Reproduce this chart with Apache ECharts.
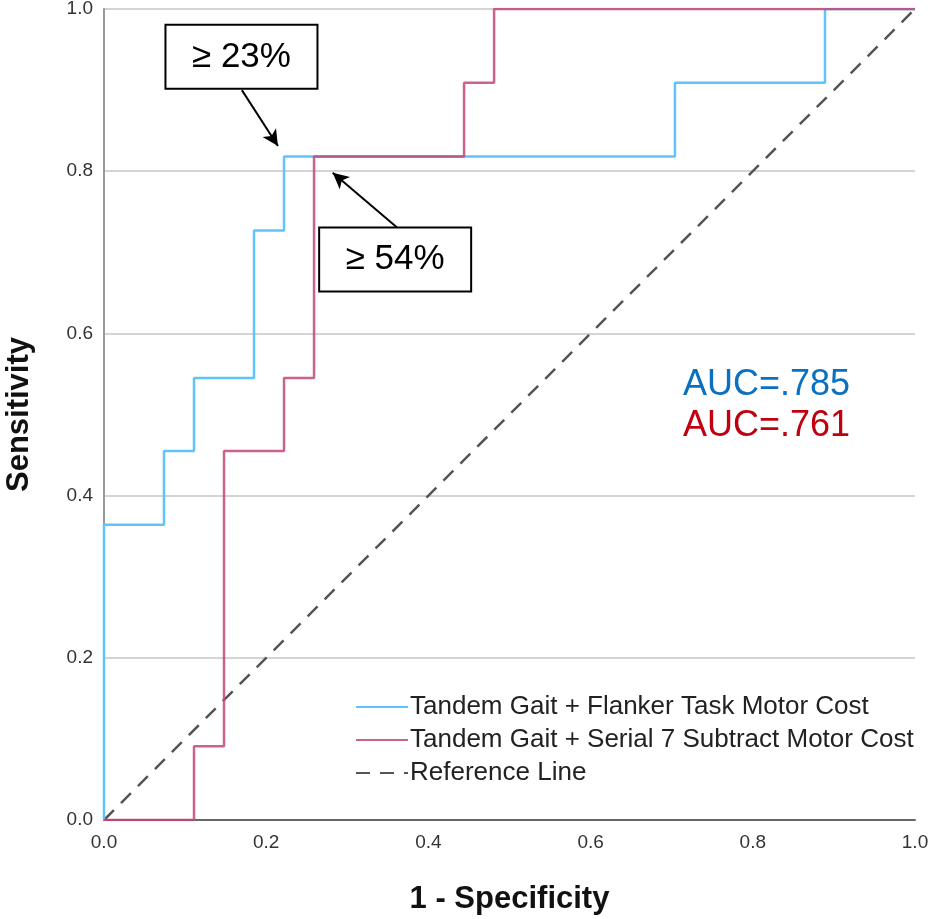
<!DOCTYPE html>
<html><head><meta charset="utf-8">
<script src="https://cdn.jsdelivr.net/npm/echarts@6/dist/echarts.min.js"></script>
<style>html,body{margin:0;padding:0;background:#fff}#c{width:933px;height:919px}</style>
</head><body><div id="c"></div>
<script>
const flankerFPR = [0, 0, 0.074, 0.074, 0.111, 0.111, 0.185, 0.185, 0.222, 0.222, 0.704, 0.704, 0.889, 0.889, 1];
const flankerTPR = [0, 0.364, 0.364, 0.455, 0.455, 0.545, 0.545, 0.727, 0.727, 0.818, 0.818, 0.909, 0.909, 1, 1];
const serialFPR = [0, 0.111, 0.111, 0.148, 0.148, 0.222, 0.222, 0.259, 0.259, 0.444, 0.444, 0.481, 0.481, 1];
const serialTPR = [0, 0, 0.091, 0.091, 0.455, 0.455, 0.545, 0.545, 0.818, 0.818, 0.909, 0.909, 1, 1];
const refX = [0, 1];
const refY = [0, 1];
const seriesNames = ['Tandem Gait + Flanker Task Motor Cost', 'Tandem Gait + Serial 7 Subtract Motor Cost', 'Reference Line'];
const aucTexts = ['AUC=.785', 'AUC=.761'];
const cutoffLabels = ['≥ 23%', '≥ 54%'];
const cutoffBoxPos = [[0.1695, 0.941], [0.359, 0.691]];
const cutoffArrows = [[[0.170, 0.900], [0.2145, 0.831]], [[0.361, 0.731], [0.282, 0.798]]];

const zip = (xs, ys) => xs.map((x, i) => [x, ys[i]]);
const font = 'Arial, "Liberation Sans", sans-serif';

const chart = echarts.init(document.getElementById('c'), null, {renderer: 'canvas'});
chart.setOption({
  animation: false,
  backgroundColor: '#fff',
  grid: {left: 104, right: 18, top: 9, bottom: 99, containLabel: false, outerBoundsMode: 'none'},
  xAxis: {
    type: 'value', min: 0, max: 1, interval: 0.2,
    name: '1 - Specificity', nameLocation: 'middle', nameGap: 64,
    nameTextStyle: {fontFamily: font, fontWeight: 'bold', fontSize: 31, color: '#111'},
    axisLine: {lineStyle: {color: '#666', width: 2}},
    axisTick: {show: false},
    splitLine: {show: false},
    axisLabel: {fontFamily: font, fontSize: 19, color: '#333', margin: 13, formatter: v => v.toFixed(1)}
  },
  yAxis: {
    type: 'value', min: 0, max: 1, interval: 0.2,
    name: 'Sensitivity', nameLocation: 'middle', nameGap: 69,
    nameTextStyle: {fontFamily: font, fontWeight: 'bold', fontSize: 31, color: '#111'},
    axisLine: {show: true, lineStyle: {color: '#999', width: 2}},
    axisTick: {show: false},
    splitLine: {lineStyle: {color: '#d4d4d4', width: 2}},
    axisLabel: {fontFamily: font, fontSize: 19, color: '#333', margin: 11, formatter: v => v.toFixed(1)}
  },
  legend: {
    orient: 'vertical', left: 350, top: 689, itemWidth: 52, itemHeight: 14, itemGap: 7,
    itemStyle: {opacity: 0},
    textStyle: {fontFamily: font, fontSize: 26, lineHeight: 24, color: '#222', padding: [0, 0, 0, -3]},
    data: seriesNames
  },
  series: [
    {
      name: seriesNames[0], type: 'line', data: zip(flankerFPR, flankerTPR),
      showSymbol: false, symbol: 'none',
      lineStyle: {color: '#5ec4fb', width: 2.5}, itemStyle: {color: '#5ec4fb'}, z: 3
    },
    {
      name: seriesNames[1], type: 'line', data: zip(serialFPR, serialTPR),
      showSymbol: false, symbol: 'none',
      lineStyle: {color: '#c2467a', width: 2.5, opacity: 0.85}, itemStyle: {color: '#c2467a'}, z: 4,
      markLine: {
        silent: true, symbol: ['none', 'arrow'], symbolSize: [12, 16],
        lineStyle: {color: '#000', width: 2, type: 'solid'},
        label: {show: false},
        data: cutoffArrows.map(a => [{coord: a[0]}, {coord: a[1]}])
      },
      markPoint: {
        silent: true, symbol: 'rect', symbolSize: [1, 1],
        itemStyle: {color: 'rgba(0,0,0,0)'},
        label: {
          show: true, position: 'inside', fontFamily: font, fontSize: 35, color: '#000',
          backgroundColor: '#fff', borderColor: '#000', borderWidth: 2,
          width: 150, height: 62, lineHeight: 62, align: 'center', verticalAlign: 'middle',
          formatter: p => p.name
        },
        data: cutoffBoxPos.map((p, i) => ({name: cutoffLabels[i], coord: p}))
      }
    },
    {
      name: seriesNames[2], type: 'line', data: zip(refX, refY),
      showSymbol: false, symbol: 'none',
      lineStyle: {color: '#555', width: 2.5, type: [14, 10]}, itemStyle: {color: '#555'}, z: 2
    }
  ],
  graphic: [
    {type: 'text', left: 683, top: 367, style: {text: aucTexts[0], fontFamily: font, fontSize: 36, fill: '#0a70c0'}},
    {type: 'text', left: 683, top: 408, style: {text: aucTexts[1], fontFamily: font, fontSize: 36, fill: '#c00010'}}
  ]
});
</script></body></html>
